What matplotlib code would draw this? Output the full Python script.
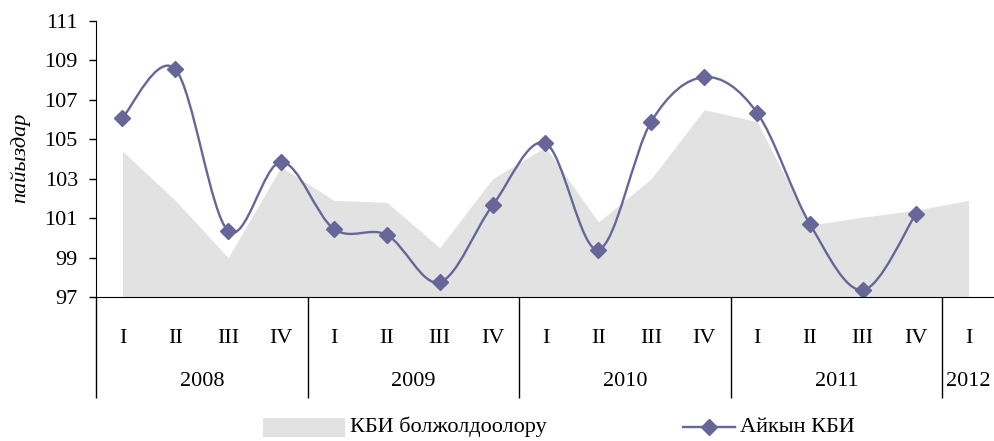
import matplotlib
matplotlib.use("Agg")
import matplotlib.pyplot as plt
import matplotlib.transforms as mtransforms
from matplotlib.path import Path
from matplotlib.patches import PathPatch, Rectangle
from matplotlib.lines import Line2D

plt.rcParams['font.family'] = ['Liberation Serif', 'DejaVu Serif']
plt.rcParams['font.size'] = 16

# quarters 2008 I .. 2012 I
quarters = ["I", "II", "III", "IV"] * 4 + ["I"]
years = ["2008", "2009", "2010", "2011", "2012"]
quarters_per_year = [4, 4, 4, 4, 1]

# КБИ болжолдоолору (forecast, grey area)
forecast = [104.4, 101.9, 99.0, 103.6, 101.9, 101.8, 99.5, 103.0, 104.6,
            100.8, 103.0, 106.5, 105.9, 100.65, 101.05, 101.4, 101.9]
# Айкын КБИ (actual CPI)
actual = [106.1, 108.55, 100.35, 103.85, 100.45, 100.15, 97.75, 101.65,
          104.8, 99.4, 105.9, 108.15, 106.35, 100.7, 97.35, 101.2]

LINE_C = '#666699'
AREA_C = '#e2e2e2'


def smooth_path(xs, ys):
    # Excel-like smoothed line: Catmull-Rom drawn as cubic Bezier segments
    n = len(xs)
    verts = [(xs[0], ys[0])]
    codes = [Path.MOVETO]
    for i in range(n - 1):
        a = i - 1 if i > 0 else i
        d = i + 2 if i + 2 < n else i + 1
        c1 = (xs[i] + (xs[i + 1] - xs[a]) / 6, ys[i] + (ys[i + 1] - ys[a]) / 6)
        c2 = (xs[i + 1] - (xs[d] - xs[i]) / 6, ys[i + 1] - (ys[d] - ys[i]) / 6)
        verts += [c1, c2, (xs[i + 1], ys[i + 1])]
        codes += [Path.CURVE4] * 3
    return Path(verts, codes)


fig = plt.figure(figsize=(9.95, 4.41), dpi=100)
ax = fig.add_axes([96 / 995, 144 / 441, 899 / 995, 276 / 441])

x_area = list(range(len(forecast)))
ax.fill_between(x_area, forecast, 97, color=AREA_C, linewidth=0)

x_line = list(range(len(actual)))
ax.add_patch(PathPatch(smooth_path(x_line, actual), fill=False,
                       edgecolor=LINE_C, linewidth=1.7))
ax.plot(x_line, actual, linestyle='none', marker='D', markersize=8,
        color=LINE_C)

ax.set_xlim(-0.5, len(quarters) - 0.5)
ax.set_ylim(97, 111)
ax.set_yticks(range(97, 112, 2))
ax.tick_params(axis='y', length=5, width=1, pad=8)

ax.set_xticks(range(len(quarters)))
ax.set_xticklabels(quarters)
ax.tick_params(axis='x', which='major', length=0, pad=23)

bounds = [-0.5]
for q in quarters_per_year:
    bounds.append(bounds[-1] + q)
ax.set_xticks(bounds[:-1], minor=True)
ax.tick_params(axis='x', which='minor', length=73, width=1, direction='out')

trans = mtransforms.blended_transform_factory(ax.transData, ax.transAxes)
for i, yr in enumerate(years):
    ax.text((bounds[i] + bounds[i + 1]) / 2, -0.305, yr, transform=trans,
            ha='center', va='center')

for s in ['top', 'right']:
    ax.spines[s].set_visible(False)

fig.text(20 / 995, 1 - 158 / 441, "пайыздар", rotation=90, style='italic',
         ha='center', va='center')

# legend
ly = 1 - 427 / 441
fig.add_artist(Rectangle((263 / 995, 1 - 437 / 441), 82 / 995, 19 / 441,
                         transform=fig.transFigure, color=AREA_C, lw=0))
fig.text(350 / 995, ly, "КБИ болжолдоолору", ha='left', va='center')
fig.add_artist(Line2D([683 / 995, 735 / 995], [ly, ly], color=LINE_C, lw=1.7,
                      transform=fig.transFigure))
fig.add_artist(Line2D([709 / 995], [ly], color=LINE_C, marker='D',
                      markersize=8, transform=fig.transFigure))
fig.text(740 / 995, ly, "Айкын КБИ", ha='left', va='center')

fig.savefig("out.png", dpi=100)
